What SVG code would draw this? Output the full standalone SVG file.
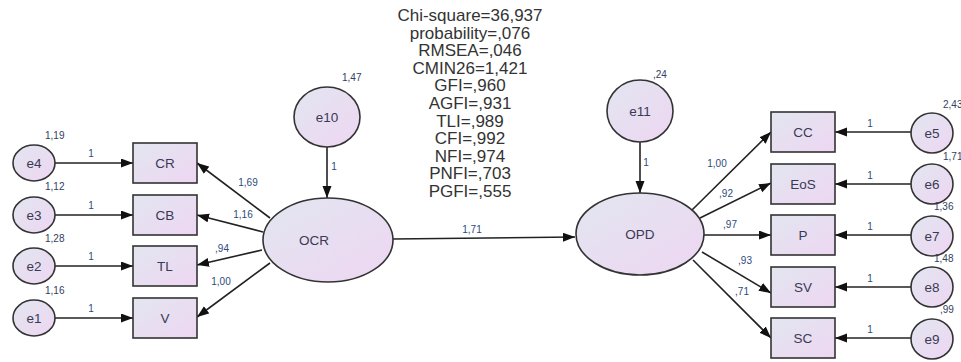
<svg xmlns="http://www.w3.org/2000/svg" width="961" height="362" viewBox="0 0 961 362">
<defs>
<linearGradient id="g" x1="0" y1="0" x2="1" y2="1">
<stop offset="0" stop-color="#e2e6f0"/>
<stop offset="1" stop-color="#eed6f2"/>
</linearGradient>
<marker id="ah" markerUnits="userSpaceOnUse" markerWidth="13" markerHeight="10" refX="12" refY="4.5" orient="auto">
<path d="M0,0 L12,4.5 L0,9 z" fill="#111"/>
</marker>
<style>
.n{fill:url(#g);stroke:#333;stroke-width:1.6}
.t{font-family:"Liberation Sans",Arial,sans-serif;font-size:13.5px;fill:#3a3a55;text-anchor:middle;dominant-baseline:central}
.v{font-family:"Liberation Sans",Arial,sans-serif;font-size:10px;fill:#34405e}
.c{font-family:"Liberation Sans",Arial,sans-serif;font-size:10px;fill:#2e4a78;text-anchor:middle}
.f{font-family:"Liberation Sans",Arial,sans-serif;font-size:17px;fill:#333;text-anchor:middle}
.l{stroke:#222;stroke-width:1.6;fill:none;marker-end:url(#ah)}
</style>
</defs>
<rect width="961" height="362" fill="#fff"/>
<g id="fit">
<text class="f" x="470" y="21">Chi-square=36,937</text>
<text class="f" x="470" y="38.6">probability=,076</text>
<text class="f" x="470" y="56.2">RMSEA=,046</text>
<text class="f" x="470" y="73.8">CMIN26=1,421</text>
<text class="f" x="470" y="91.4">GFI=,960</text>
<text class="f" x="470" y="109">AGFI=,931</text>
<text class="f" x="470" y="126.6">TLI=,989</text>
<text class="f" x="470" y="144.2">CFI=,992</text>
<text class="f" x="470" y="161.8">NFI=,974</text>
<text class="f" x="470" y="179.4">PNFI=,703</text>
<text class="f" x="470" y="197">PGFI=,555</text>
</g>
<g id="connectors">
<line class="l" x1="55" y1="163" x2="133" y2="163"/>
<line class="l" x1="55" y1="215" x2="133" y2="215"/>
<line class="l" x1="55" y1="266" x2="133" y2="266"/>
<line class="l" x1="55" y1="318" x2="133" y2="318"/>
<line class="l" x1="270" y1="218" x2="197" y2="163"/>
<line class="l" x1="263" y1="232" x2="197" y2="215"/>
<line class="l" x1="262" y1="250" x2="197" y2="265"/>
<line class="l" x1="270" y1="263" x2="197" y2="317"/>
<line class="l" x1="327" y1="147" x2="327" y2="198"/>
<line class="l" x1="393" y1="239" x2="575" y2="237"/>
<line class="l" x1="640" y1="142" x2="640" y2="193"/>
<line class="l" x1="692" y1="210" x2="771" y2="132"/>
<line class="l" x1="700" y1="218" x2="771" y2="183"/>
<line class="l" x1="704" y1="235" x2="771" y2="235"/>
<line class="l" x1="702" y1="252" x2="771" y2="293"/>
<line class="l" x1="693" y1="260" x2="771" y2="338"/>
<line class="l" x1="911" y1="132" x2="835" y2="132"/>
<line class="l" x1="911" y1="184" x2="835" y2="184"/>
<line class="l" x1="911" y1="235" x2="835" y2="235"/>
<line class="l" x1="911" y1="287" x2="835" y2="287"/>
<line class="l" x1="911" y1="338" x2="835" y2="338"/>
<text class="c" x="91" y="157">1</text>
<text class="c" x="91" y="209">1</text>
<text class="c" x="91" y="260">1</text>
<text class="c" x="91" y="312">1</text>
<text class="c" x="248" y="186">1,69</text>
<text class="c" x="243" y="218">1,16</text>
<text class="c" x="222" y="252">,94</text>
<text class="c" x="221" y="285">1,00</text>
<text class="c" x="334" y="170">1</text>
<text class="c" x="472" y="233">1,71</text>
<text class="c" x="646" y="166">1</text>
<text class="c" x="717" y="167">1,00</text>
<text class="c" x="726" y="197">,92</text>
<text class="c" x="730" y="228">,97</text>
<text class="c" x="745" y="264">,93</text>
<text class="c" x="742" y="295">,71</text>
<text class="c" x="870" y="127">1</text>
<text class="c" x="870" y="179">1</text>
<text class="c" x="870" y="230">1</text>
<text class="c" x="870" y="282">1</text>
<text class="c" x="870" y="333">1</text>
</g>
<g id="e4"><ellipse class="n" cx="34" cy="163" rx="21" ry="18"/><text class="t" x="34" y="163">e4</text><text class="v" x="45" y="139">1,19</text></g>
<g id="e3"><ellipse class="n" cx="34" cy="215" rx="21" ry="18"/><text class="t" x="34" y="215">e3</text><text class="v" x="45" y="190">1,12</text></g>
<g id="e2"><ellipse class="n" cx="34" cy="266" rx="21" ry="18"/><text class="t" x="34" y="266">e2</text><text class="v" x="45" y="242">1,28</text></g>
<g id="e1"><ellipse class="n" cx="34" cy="318" rx="21" ry="18"/><text class="t" x="34" y="318">e1</text><text class="v" x="45" y="294">1,16</text></g>
<g id="CR"><rect class="n" x="133" y="143" width="64" height="40"/><text class="t" x="165" y="163">CR</text></g>
<g id="CB"><rect class="n" x="133" y="195" width="64" height="40"/><text class="t" x="165" y="215">CB</text></g>
<g id="TL"><rect class="n" x="133" y="246" width="64" height="40"/><text class="t" x="165" y="266">TL</text></g>
<g id="V"><rect class="n" x="133" y="298" width="64" height="40"/><text class="t" x="165" y="318">V</text></g>
<g id="e10"><ellipse class="n" cx="327" cy="117" rx="33" ry="30"/><text class="t" x="327" y="117">e10</text><text class="v" x="342" y="81">1,47</text></g>
<g id="OCR"><ellipse class="n" cx="328" cy="240" rx="65" ry="42"/><text class="t" x="314" y="240">OCR</text></g>
<g id="e11"><ellipse class="n" cx="640" cy="111" rx="33" ry="31"/><text class="t" x="640" y="111">e11</text><text class="v" x="653" y="78">,24</text></g>
<g id="OPD"><ellipse class="n" cx="640" cy="234" rx="64" ry="41"/><text class="t" x="640" y="234">OPD</text></g>
<g id="CC"><rect class="n" x="771" y="112" width="64" height="40"/><text class="t" x="803" y="132">CC</text></g>
<g id="EoS"><rect class="n" x="771" y="164" width="64" height="40"/><text class="t" x="803" y="184">EoS</text></g>
<g id="P"><rect class="n" x="771" y="215" width="64" height="40"/><text class="t" x="803" y="235">P</text></g>
<g id="SV"><rect class="n" x="771" y="267" width="64" height="40"/><text class="t" x="803" y="287">SV</text></g>
<g id="SC"><rect class="n" x="771" y="318" width="64" height="40"/><text class="t" x="803" y="338">SC</text></g>
<g id="e5"><ellipse class="n" cx="932" cy="133" rx="21" ry="20"/><text class="t" x="932" y="133">e5</text><text class="v" x="943" y="108">2,43</text></g>
<g id="e6"><ellipse class="n" cx="932" cy="184" rx="21" ry="20"/><text class="t" x="932" y="184">e6</text><text class="v" x="943" y="160">1,71</text></g>
<g id="e7"><ellipse class="n" cx="932" cy="236" rx="21" ry="20"/><text class="t" x="932" y="236">e7</text><text class="v" x="934" y="210">1,36</text></g>
<g id="e8"><ellipse class="n" cx="932" cy="287" rx="21" ry="20"/><text class="t" x="932" y="287">e8</text><text class="v" x="934" y="262">1,48</text></g>
<g id="e9"><ellipse class="n" cx="932" cy="339" rx="21" ry="20"/><text class="t" x="932" y="339">e9</text><text class="v" x="940" y="313">,99</text></g>
</svg>
